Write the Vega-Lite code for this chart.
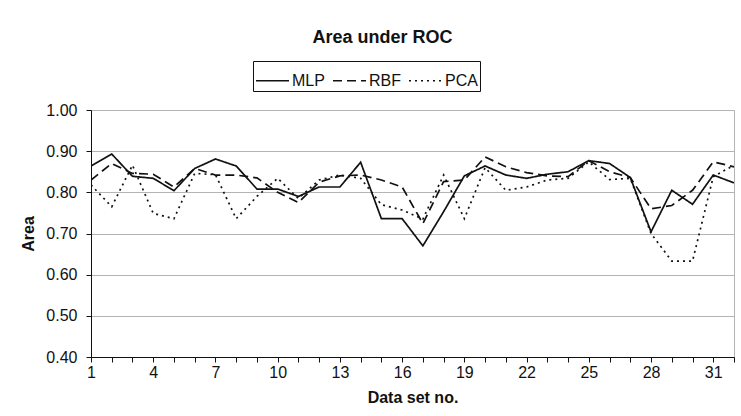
{
  "$schema": "https://vega.github.io/schema/vega-lite/v6.json",
  "width": 643,
  "height": 247,
  "autosize": {"type": "none"},
  "padding": {"left": 91, "top": 110, "right": 7, "bottom": 59},
  "background": "white",
  "title": {
    "text": "Area under ROC",
    "font": "Liberation Sans",
    "fontSize": 18,
    "fontWeight": "bold",
    "color": "#111111",
    "anchor": "middle",
    "frame": "group",
    "dx": -30,
    "offset": 14
  },
  "config": {
    "view": {"stroke": "#b4b4b4", "strokeWidth": 1},
    "font": "Liberation Sans"
  },
  "data": {
    "values": [
      {"set": 1, "model": "MLP", "area": 0.864},
      {"set": 2, "model": "MLP", "area": 0.893},
      {"set": 3, "model": "MLP", "area": 0.839},
      {"set": 4, "model": "MLP", "area": 0.834},
      {"set": 5, "model": "MLP", "area": 0.804},
      {"set": 6, "model": "MLP", "area": 0.858},
      {"set": 7, "model": "MLP", "area": 0.881},
      {"set": 8, "model": "MLP", "area": 0.864},
      {"set": 9, "model": "MLP", "area": 0.808},
      {"set": 10, "model": "MLP", "area": 0.808},
      {"set": 11, "model": "MLP", "area": 0.790},
      {"set": 12, "model": "MLP", "area": 0.813},
      {"set": 13, "model": "MLP", "area": 0.813},
      {"set": 14, "model": "MLP", "area": 0.873},
      {"set": 15, "model": "MLP", "area": 0.736},
      {"set": 16, "model": "MLP", "area": 0.736},
      {"set": 17, "model": "MLP", "area": 0.670},
      {"set": 18, "model": "MLP", "area": 0.753},
      {"set": 19, "model": "MLP", "area": 0.840},
      {"set": 20, "model": "MLP", "area": 0.864},
      {"set": 21, "model": "MLP", "area": 0.842},
      {"set": 22, "model": "MLP", "area": 0.834},
      {"set": 23, "model": "MLP", "area": 0.844},
      {"set": 24, "model": "MLP", "area": 0.850},
      {"set": 25, "model": "MLP", "area": 0.877},
      {"set": 26, "model": "MLP", "area": 0.870},
      {"set": 27, "model": "MLP", "area": 0.836},
      {"set": 28, "model": "MLP", "area": 0.704},
      {"set": 29, "model": "MLP", "area": 0.805},
      {"set": 30, "model": "MLP", "area": 0.771},
      {"set": 31, "model": "MLP", "area": 0.842},
      {"set": 32, "model": "MLP", "area": 0.823},
      {"set": 1, "model": "RBF", "area": 0.830},
      {"set": 2, "model": "RBF", "area": 0.870},
      {"set": 3, "model": "RBF", "area": 0.846},
      {"set": 4, "model": "RBF", "area": 0.844},
      {"set": 5, "model": "RBF", "area": 0.813},
      {"set": 6, "model": "RBF", "area": 0.858},
      {"set": 7, "model": "RBF", "area": 0.842},
      {"set": 8, "model": "RBF", "area": 0.842},
      {"set": 9, "model": "RBF", "area": 0.835},
      {"set": 10, "model": "RBF", "area": 0.800},
      {"set": 11, "model": "RBF", "area": 0.775},
      {"set": 12, "model": "RBF", "area": 0.825},
      {"set": 13, "model": "RBF", "area": 0.840},
      {"set": 14, "model": "RBF", "area": 0.842},
      {"set": 15, "model": "RBF", "area": 0.830},
      {"set": 16, "model": "RBF", "area": 0.813},
      {"set": 17, "model": "RBF", "area": 0.724},
      {"set": 18, "model": "RBF", "area": 0.826},
      {"set": 19, "model": "RBF", "area": 0.830},
      {"set": 20, "model": "RBF", "area": 0.886},
      {"set": 21, "model": "RBF", "area": 0.862},
      {"set": 22, "model": "RBF", "area": 0.848},
      {"set": 23, "model": "RBF", "area": 0.840},
      {"set": 24, "model": "RBF", "area": 0.838},
      {"set": 25, "model": "RBF", "area": 0.877},
      {"set": 26, "model": "RBF", "area": 0.850},
      {"set": 27, "model": "RBF", "area": 0.836},
      {"set": 28, "model": "RBF", "area": 0.760},
      {"set": 29, "model": "RBF", "area": 0.768},
      {"set": 30, "model": "RBF", "area": 0.805},
      {"set": 31, "model": "RBF", "area": 0.874},
      {"set": 32, "model": "RBF", "area": 0.862},
      {"set": 1, "model": "PCA", "area": 0.818},
      {"set": 2, "model": "PCA", "area": 0.765},
      {"set": 3, "model": "PCA", "area": 0.866},
      {"set": 4, "model": "PCA", "area": 0.749},
      {"set": 5, "model": "PCA", "area": 0.736},
      {"set": 6, "model": "PCA", "area": 0.846},
      {"set": 7, "model": "PCA", "area": 0.843},
      {"set": 8, "model": "PCA", "area": 0.736},
      {"set": 9, "model": "PCA", "area": 0.790},
      {"set": 10, "model": "PCA", "area": 0.834},
      {"set": 11, "model": "PCA", "area": 0.785},
      {"set": 12, "model": "PCA", "area": 0.830},
      {"set": 13, "model": "PCA", "area": 0.842},
      {"set": 14, "model": "PCA", "area": 0.834},
      {"set": 15, "model": "PCA", "area": 0.770},
      {"set": 16, "model": "PCA", "area": 0.757},
      {"set": 17, "model": "PCA", "area": 0.735},
      {"set": 18, "model": "PCA", "area": 0.842},
      {"set": 19, "model": "PCA", "area": 0.736},
      {"set": 20, "model": "PCA", "area": 0.860},
      {"set": 21, "model": "PCA", "area": 0.805},
      {"set": 22, "model": "PCA", "area": 0.813},
      {"set": 23, "model": "PCA", "area": 0.830},
      {"set": 24, "model": "PCA", "area": 0.834},
      {"set": 25, "model": "PCA", "area": 0.874},
      {"set": 26, "model": "PCA", "area": 0.831},
      {"set": 27, "model": "PCA", "area": 0.834},
      {"set": 28, "model": "PCA", "area": 0.700},
      {"set": 29, "model": "PCA", "area": 0.633},
      {"set": 30, "model": "PCA", "area": 0.633},
      {"set": 31, "model": "PCA", "area": 0.838},
      {"set": 32, "model": "PCA", "area": 0.866}
    ]
  },
  "mark": {"type": "line", "color": "#111111", "strokeWidth": 1.7, "strokeCap": "butt", "clip": true},
  "encoding": {
    "x": {
      "field": "set",
      "type": "quantitative",
      "scale": {"domain": [1, 32], "nice": false, "zero": false},
      "axis": {
        "title": "Data set no.",
        "titleFont": "Liberation Sans",
        "titleFontSize": 16,
        "titleFontWeight": "bold",
        "titleColor": "#111111",
        "titlePadding": 9,
        "values": [1,2,3,4,5,6,7,8,9,10,11,12,13,14,15,16,17,18,19,20,21,22,23,24,25,26,27,28,29,30,31,32],
        "labelExpr": "(datum.value - 1) % 3 == 0 ? datum.label : ''",
        "labelFont": "Liberation Sans",
        "labelFontSize": 16,
        "labelColor": "#111111",
        "labelPadding": 2,
        "labelOverlap": false,
        "labelFlush": false,
        "tickColor": "#111111",
        "tickSize": 5,
        "domainColor": "#111111",
        "grid": false
      }
    },
    "y": {
      "field": "area",
      "type": "quantitative",
      "scale": {"domain": [0.4, 1.0], "nice": false, "zero": false},
      "axis": {
        "title": "Area",
        "titleFont": "Liberation Sans",
        "titleFontSize": 16,
        "titleFontWeight": "bold",
        "titleColor": "#111111",
        "titlePadding": 9,
        "values": [0.4, 0.5, 0.6, 0.7, 0.8, 0.9, 1.0],
        "format": ".2f",
        "labelFont": "Liberation Sans",
        "labelFontSize": 16,
        "labelColor": "#111111",
        "labelPadding": 9,
        "tickColor": "#111111",
        "tickSize": 5,
        "domainColor": "#111111",
        "gridColor": "#b4b4b4",
        "gridWidth": 1
      }
    },
    "strokeDash": {
      "field": "model",
      "type": "nominal",
      "scale": {"domain": ["MLP", "RBF", "PCA"], "range": [[1, 0], [9, 5], [2, 4]]},
      "legend": {
        "title": null,
        "orient": "none",
        "direction": "horizontal",
        "legendX": 162,
        "legendY": -49,
        "symbolType": "stroke",
        "symbolSize": 1089,
        "symbolStrokeColor": "#111111",
        "symbolStrokeWidth": 1.6,
        "labelFont": "Liberation Sans",
        "labelFontSize": 16,
        "labelColor": "#111111",
        "labelOffset": 2,
        "columnPadding": 4,
        "padding": 2,
        "strokeColor": "#111111",
        "fillColor": "white"
      }
    }
  }
}
